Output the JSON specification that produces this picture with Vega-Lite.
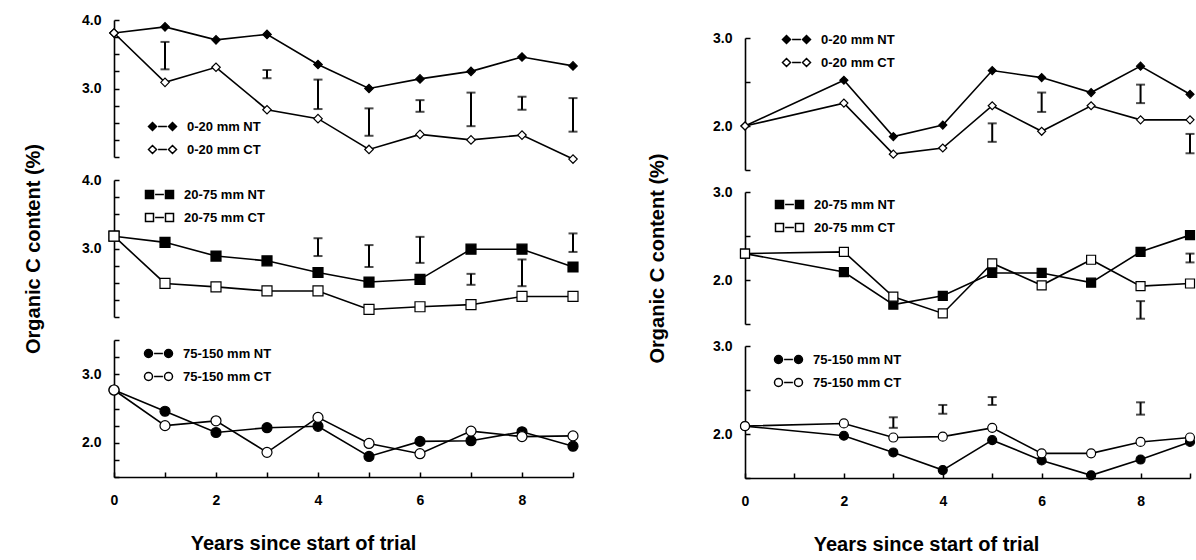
{
  "$schema": "https://vega.github.io/schema/vega-lite/v6.json",
  "padding": {"left": 23, "top": 13, "right": 0, "bottom": 0},
  "config": {
    "font": "Liberation Sans",
    "view": {"stroke": null},
    "axis": {"domainColor": "black", "domainWidth": 1.6, "tickColor": "black", "tickWidth": 1.5, "tickSize": -5, "labelFont": "Liberation Sans", "labelFontWeight": "bold", "labelFontSize": 14, "labelColor": "black", "titleFont": "Liberation Sans", "titleFontWeight": "bold", "titleFontSize": 20, "titleColor": "black", "grid": false, "labelFlush": false, "labelOverlap": false},
    "legend": {"orient": "none", "padding": 0, "labelFont": "Liberation Sans", "labelFontWeight": "bold", "labelFontSize": 13, "labelColor": "black", "labelOffset": 18, "symbolSize": 64, "symbolStrokeColor": "black", "symbolStrokeWidth": 1.5, "rowPadding": 8, "symbolOffset": 0}
  },
  "datasets": {
    "pts": [
      {"panel": "L1", "series": "0-20 mm NT", "year": 0, "value": 3.81},
      {"panel": "L1", "series": "0-20 mm NT", "year": 1, "value": 3.90},
      {"panel": "L1", "series": "0-20 mm NT", "year": 2, "value": 3.71},
      {"panel": "L1", "series": "0-20 mm NT", "year": 3, "value": 3.79},
      {"panel": "L1", "series": "0-20 mm NT", "year": 4, "value": 3.35},
      {"panel": "L1", "series": "0-20 mm NT", "year": 5, "value": 3.00},
      {"panel": "L1", "series": "0-20 mm NT", "year": 6, "value": 3.14},
      {"panel": "L1", "series": "0-20 mm NT", "year": 7, "value": 3.25},
      {"panel": "L1", "series": "0-20 mm NT", "year": 8, "value": 3.46},
      {"panel": "L1", "series": "0-20 mm NT", "year": 9, "value": 3.33},
      {"panel": "L1", "series": "0-20 mm CT", "year": 0, "value": 3.81},
      {"panel": "L1", "series": "0-20 mm CT", "year": 1, "value": 3.09},
      {"panel": "L1", "series": "0-20 mm CT", "year": 2, "value": 3.31},
      {"panel": "L1", "series": "0-20 mm CT", "year": 3, "value": 2.69},
      {"panel": "L1", "series": "0-20 mm CT", "year": 4, "value": 2.56},
      {"panel": "L1", "series": "0-20 mm CT", "year": 5, "value": 2.11},
      {"panel": "L1", "series": "0-20 mm CT", "year": 6, "value": 2.33},
      {"panel": "L1", "series": "0-20 mm CT", "year": 7, "value": 2.25},
      {"panel": "L1", "series": "0-20 mm CT", "year": 8, "value": 2.32},
      {"panel": "L1", "series": "0-20 mm CT", "year": 9, "value": 1.97},
      {"panel": "L2", "series": "20-75 mm NT", "year": 0, "value": 3.18},
      {"panel": "L2", "series": "20-75 mm NT", "year": 1, "value": 3.09},
      {"panel": "L2", "series": "20-75 mm NT", "year": 2, "value": 2.89},
      {"panel": "L2", "series": "20-75 mm NT", "year": 3, "value": 2.82},
      {"panel": "L2", "series": "20-75 mm NT", "year": 4, "value": 2.65},
      {"panel": "L2", "series": "20-75 mm NT", "year": 5, "value": 2.51},
      {"panel": "L2", "series": "20-75 mm NT", "year": 6, "value": 2.55},
      {"panel": "L2", "series": "20-75 mm NT", "year": 7, "value": 2.99},
      {"panel": "L2", "series": "20-75 mm NT", "year": 8, "value": 2.99},
      {"panel": "L2", "series": "20-75 mm NT", "year": 9, "value": 2.73},
      {"panel": "L2", "series": "20-75 mm CT", "year": 0, "value": 3.18},
      {"panel": "L2", "series": "20-75 mm CT", "year": 1, "value": 2.49},
      {"panel": "L2", "series": "20-75 mm CT", "year": 2, "value": 2.44},
      {"panel": "L2", "series": "20-75 mm CT", "year": 3, "value": 2.38},
      {"panel": "L2", "series": "20-75 mm CT", "year": 4, "value": 2.38},
      {"panel": "L2", "series": "20-75 mm CT", "year": 5, "value": 2.11},
      {"panel": "L2", "series": "20-75 mm CT", "year": 6, "value": 2.15},
      {"panel": "L2", "series": "20-75 mm CT", "year": 7, "value": 2.18},
      {"panel": "L2", "series": "20-75 mm CT", "year": 8, "value": 2.30},
      {"panel": "L2", "series": "20-75 mm CT", "year": 9, "value": 2.30},
      {"panel": "L3", "series": "75-150 mm NT", "year": 0, "value": 2.77},
      {"panel": "L3", "series": "75-150 mm NT", "year": 1, "value": 2.46},
      {"panel": "L3", "series": "75-150 mm NT", "year": 2, "value": 2.15},
      {"panel": "L3", "series": "75-150 mm NT", "year": 3, "value": 2.22},
      {"panel": "L3", "series": "75-150 mm NT", "year": 4, "value": 2.24},
      {"panel": "L3", "series": "75-150 mm NT", "year": 5, "value": 1.80},
      {"panel": "L3", "series": "75-150 mm NT", "year": 6, "value": 2.02},
      {"panel": "L3", "series": "75-150 mm NT", "year": 7, "value": 2.03},
      {"panel": "L3", "series": "75-150 mm NT", "year": 8, "value": 2.16},
      {"panel": "L3", "series": "75-150 mm NT", "year": 9, "value": 1.95},
      {"panel": "L3", "series": "75-150 mm CT", "year": 0, "value": 2.77},
      {"panel": "L3", "series": "75-150 mm CT", "year": 1, "value": 2.25},
      {"panel": "L3", "series": "75-150 mm CT", "year": 2, "value": 2.32},
      {"panel": "L3", "series": "75-150 mm CT", "year": 3, "value": 1.86},
      {"panel": "L3", "series": "75-150 mm CT", "year": 4, "value": 2.37},
      {"panel": "L3", "series": "75-150 mm CT", "year": 5, "value": 1.99},
      {"panel": "L3", "series": "75-150 mm CT", "year": 6, "value": 1.84},
      {"panel": "L3", "series": "75-150 mm CT", "year": 7, "value": 2.17},
      {"panel": "L3", "series": "75-150 mm CT", "year": 8, "value": 2.09},
      {"panel": "L3", "series": "75-150 mm CT", "year": 9, "value": 2.10},
      {"panel": "R1", "series": "0-20 mm NT", "year": 0, "value": 2.00},
      {"panel": "R1", "series": "0-20 mm NT", "year": 2, "value": 2.52},
      {"panel": "R1", "series": "0-20 mm NT", "year": 3, "value": 1.88},
      {"panel": "R1", "series": "0-20 mm NT", "year": 4, "value": 2.01},
      {"panel": "R1", "series": "0-20 mm NT", "year": 5, "value": 2.63},
      {"panel": "R1", "series": "0-20 mm NT", "year": 6, "value": 2.55},
      {"panel": "R1", "series": "0-20 mm NT", "year": 7, "value": 2.38},
      {"panel": "R1", "series": "0-20 mm NT", "year": 8, "value": 2.68},
      {"panel": "R1", "series": "0-20 mm NT", "year": 9, "value": 2.36},
      {"panel": "R1", "series": "0-20 mm CT", "year": 0, "value": 2.00},
      {"panel": "R1", "series": "0-20 mm CT", "year": 2, "value": 2.26},
      {"panel": "R1", "series": "0-20 mm CT", "year": 3, "value": 1.68},
      {"panel": "R1", "series": "0-20 mm CT", "year": 4, "value": 1.75},
      {"panel": "R1", "series": "0-20 mm CT", "year": 5, "value": 2.23},
      {"panel": "R1", "series": "0-20 mm CT", "year": 6, "value": 1.94},
      {"panel": "R1", "series": "0-20 mm CT", "year": 7, "value": 2.23},
      {"panel": "R1", "series": "0-20 mm CT", "year": 8, "value": 2.07},
      {"panel": "R1", "series": "0-20 mm CT", "year": 9, "value": 2.07},
      {"panel": "R2", "series": "20-75 mm NT", "year": 0, "value": 2.30},
      {"panel": "R2", "series": "20-75 mm NT", "year": 2, "value": 2.09},
      {"panel": "R2", "series": "20-75 mm NT", "year": 3, "value": 1.72},
      {"panel": "R2", "series": "20-75 mm NT", "year": 4, "value": 1.82},
      {"panel": "R2", "series": "20-75 mm NT", "year": 5, "value": 2.08},
      {"panel": "R2", "series": "20-75 mm NT", "year": 6, "value": 2.08},
      {"panel": "R2", "series": "20-75 mm NT", "year": 7, "value": 1.97},
      {"panel": "R2", "series": "20-75 mm NT", "year": 8, "value": 2.32},
      {"panel": "R2", "series": "20-75 mm NT", "year": 9, "value": 2.51},
      {"panel": "R2", "series": "20-75 mm CT", "year": 0, "value": 2.30},
      {"panel": "R2", "series": "20-75 mm CT", "year": 2, "value": 2.32},
      {"panel": "R2", "series": "20-75 mm CT", "year": 3, "value": 1.81},
      {"panel": "R2", "series": "20-75 mm CT", "year": 4, "value": 1.62},
      {"panel": "R2", "series": "20-75 mm CT", "year": 5, "value": 2.19},
      {"panel": "R2", "series": "20-75 mm CT", "year": 6, "value": 1.94},
      {"panel": "R2", "series": "20-75 mm CT", "year": 7, "value": 2.23},
      {"panel": "R2", "series": "20-75 mm CT", "year": 8, "value": 1.93},
      {"panel": "R2", "series": "20-75 mm CT", "year": 9, "value": 1.96},
      {"panel": "R3", "series": "75-150 mm NT", "year": 0, "value": 2.09},
      {"panel": "R3", "series": "75-150 mm NT", "year": 2, "value": 1.98},
      {"panel": "R3", "series": "75-150 mm NT", "year": 3, "value": 1.79},
      {"panel": "R3", "series": "75-150 mm NT", "year": 4, "value": 1.59},
      {"panel": "R3", "series": "75-150 mm NT", "year": 5, "value": 1.93},
      {"panel": "R3", "series": "75-150 mm NT", "year": 6, "value": 1.70},
      {"panel": "R3", "series": "75-150 mm NT", "year": 7, "value": 1.53},
      {"panel": "R3", "series": "75-150 mm NT", "year": 8, "value": 1.71},
      {"panel": "R3", "series": "75-150 mm NT", "year": 9, "value": 1.91},
      {"panel": "R3", "series": "75-150 mm CT", "year": 0, "value": 2.09},
      {"panel": "R3", "series": "75-150 mm CT", "year": 2, "value": 2.12},
      {"panel": "R3", "series": "75-150 mm CT", "year": 3, "value": 1.96},
      {"panel": "R3", "series": "75-150 mm CT", "year": 4, "value": 1.97},
      {"panel": "R3", "series": "75-150 mm CT", "year": 5, "value": 2.07},
      {"panel": "R3", "series": "75-150 mm CT", "year": 6, "value": 1.78},
      {"panel": "R3", "series": "75-150 mm CT", "year": 7, "value": 1.78},
      {"panel": "R3", "series": "75-150 mm CT", "year": 8, "value": 1.91},
      {"panel": "R3", "series": "75-150 mm CT", "year": 9, "value": 1.96}
    ],
    "err": [
      {"panel": "L1", "year": 1, "value": 3.28, "hi": 3.68},
      {"panel": "L1", "year": 3, "value": 3.15, "hi": 3.27},
      {"panel": "L1", "year": 4, "value": 2.70, "hi": 3.13},
      {"panel": "L1", "year": 5, "value": 2.31, "hi": 2.71},
      {"panel": "L1", "year": 6, "value": 2.66, "hi": 2.83},
      {"panel": "L1", "year": 7, "value": 2.45, "hi": 2.94},
      {"panel": "L1", "year": 8, "value": 2.69, "hi": 2.88},
      {"panel": "L1", "year": 9, "value": 2.37, "hi": 2.86},
      {"panel": "L2", "year": 4, "value": 2.89, "hi": 3.15},
      {"panel": "L2", "year": 5, "value": 2.73, "hi": 3.05},
      {"panel": "L2", "year": 6, "value": 2.79, "hi": 3.17},
      {"panel": "L2", "year": 7, "value": 2.47, "hi": 2.63},
      {"panel": "L2", "year": 8, "value": 2.45, "hi": 2.84},
      {"panel": "L2", "year": 9, "value": 2.95, "hi": 3.22},
      {"panel": "R1", "year": 5, "value": 1.82, "hi": 2.03},
      {"panel": "R1", "year": 6, "value": 2.16, "hi": 2.38},
      {"panel": "R1", "year": 8, "value": 2.26, "hi": 2.47},
      {"panel": "R1", "year": 9, "value": 1.69, "hi": 1.91},
      {"panel": "R2", "year": 8, "value": 1.56, "hi": 1.76},
      {"panel": "R2", "year": 9, "value": 2.20, "hi": 2.30},
      {"panel": "R3", "year": 3, "value": 2.07, "hi": 2.19},
      {"panel": "R3", "year": 4, "value": 2.23, "hi": 2.33},
      {"panel": "R3", "year": 5, "value": 2.33, "hi": 2.42},
      {"panel": "R3", "year": 8, "value": 2.22, "hi": 2.36}
    ]
  },
  "hconcat": [
    {
      "vconcat": [
        {
          "width": 459, "height": 137,
          "encoding": {
            "x": {"field": "year", "type": "quantitative", "scale": {"domain": [0, 9], "nice": false, "zero": false}, "axis": null},
            "y": {"field": "value", "type": "quantitative", "scale": {"domain": [2, 4], "nice": false, "zero": false}, "axis": {"values": [2, 2.25, 2.5, 2.75, 3, 3.25, 3.5, 3.75, 4], "format": ".1f", "labelExpr": "datum.value >= 3 && datum.value % 1 === 0 ? datum.label : ''", "labelPadding": 18, "title": null}}
          },
          "layer": [
            {"data": {"name": "pts"}, "transform": [{"filter": "datum.panel === 'L1'"}], "mark": {"type": "line", "color": "black", "strokeWidth": 1.6}, "encoding": {"detail": {"field": "series"}}},
            {"data": {"name": "err"}, "transform": [{"filter": "datum.panel === 'L1'"}], "mark": {"type": "errorbar", "ticks": true, "size": 9, "thickness": 2, "color": "black"}, "encoding": {"y2": {"field": "hi"}}},
            {"data": {"name": "pts"}, "transform": [{"filter": "datum.panel === 'L1'"}], "mark": {"type": "point", "shape": "diamond", "size": 72, "filled": true, "stroke": "black", "strokeWidth": 1.2, "opacity": 1},
             "encoding": {"fill": {"field": "series", "type": "nominal", "scale": {"domain": ["0-20 mm NT", "0-20 mm CT"], "range": ["black", "white"]},
               "legend": {"title": null, "legendX": 42, "legendY": 100, "symbolType": "M-3.5,0L-2.5,-1L-1.5,0L-2.5,1Z M-1.1,0H1.1 M1.5,0L2.5,-1L3.5,0L2.5,1Z"}}}}
          ]
        },
        {
          "width": 459, "height": 137,
          "encoding": {
            "x": {"field": "year", "type": "quantitative", "scale": {"domain": [0, 9], "nice": false, "zero": false}, "axis": null},
            "y": {"field": "value", "type": "quantitative", "scale": {"domain": [2, 4], "nice": false, "zero": false}, "axis": {"values": [2, 2.25, 2.5, 2.75, 3, 3.25, 3.5, 3.75, 4], "format": ".1f", "labelExpr": "datum.value >= 3 && datum.value % 1 === 0 ? datum.label : ''", "labelPadding": 18, "title": "Organic C content (%)", "titlePadding": 38}}
          },
          "layer": [
            {"data": {"name": "pts"}, "transform": [{"filter": "datum.panel === 'L2'"}], "mark": {"type": "line", "color": "black", "strokeWidth": 1.6}, "encoding": {"detail": {"field": "series"}}},
            {"data": {"name": "err"}, "transform": [{"filter": "datum.panel === 'L2'"}], "mark": {"type": "errorbar", "ticks": true, "size": 9, "thickness": 2, "color": "black"}, "encoding": {"y2": {"field": "hi"}}},
            {"data": {"name": "pts"}, "transform": [{"filter": "datum.panel === 'L2'"}], "mark": {"type": "point", "shape": "square", "size": 100, "filled": true, "stroke": "black", "strokeWidth": 1.2, "opacity": 1},
             "encoding": {"fill": {"field": "series", "type": "nominal", "scale": {"domain": ["20-75 mm NT", "20-75 mm CT"], "range": ["black", "white"]},
               "legend": {"title": null, "legendX": 39, "legendY": 8, "symbolType": "M-3.5,-1H-1.5V1H-3.5Z M-1.1,0H1.1 M1.5,-1H3.5V1H1.5Z"}}}}
          ]
        },
        {
          "width": 459, "height": 137,
          "encoding": {
            "x": {"field": "year", "type": "quantitative", "scale": {"domain": [0, 9], "nice": false, "zero": false}, "axis": {"values": [0, 1, 2, 3, 4, 5, 6, 7, 8, 9], "labelExpr": "datum.value % 2 === 0 ? datum.label : ''", "labelPadding": 21, "title": "Years since start of trial", "titlePadding": 26, "titleX": 189}},
            "y": {"field": "value", "type": "quantitative", "scale": {"domain": [1.5, 3.5], "nice": false, "zero": false}, "axis": {"values": [1.5, 1.75, 2, 2.25, 2.5, 2.75, 3, 3.25, 3.5], "format": ".1f", "labelExpr": "(datum.value === 2 || datum.value === 3) ? datum.label : ''", "labelPadding": 18, "title": null}}
          },
          "layer": [
            {"data": {"name": "pts"}, "transform": [{"filter": "datum.panel === 'L3'"}], "mark": {"type": "line", "color": "black", "strokeWidth": 1.6}, "encoding": {"detail": {"field": "series"}}},
            {"data": {"name": "pts"}, "transform": [{"filter": "datum.panel === 'L3'"}], "mark": {"type": "point", "shape": "circle", "size": 100, "filled": true, "stroke": "black", "strokeWidth": 1.2, "opacity": 1},
             "encoding": {"fill": {"field": "series", "type": "nominal", "scale": {"domain": ["75-150 mm NT", "75-150 mm CT"], "range": ["black", "white"]},
               "legend": {"title": null, "legendX": 38, "legendY": 7, "symbolType": "M-1.5,0A1,1,0,1,1,-3.5,0A1,1,0,1,1,-1.5,0Z M-1.1,0H1.1 M3.5,0A1,1,0,1,1,1.5,0A1,1,0,1,1,3.5,0Z"}}}}
          ]
        }
      ],
      "spacing": 23,
      "bounds": "flush",
      "resolve": {"scale": {"x": "independent", "y": "independent", "fill": "independent"}, "axis": {"x": "independent", "y": "independent"}, "legend": {"fill": "independent"}}
    },
    {
      "vconcat": [
        {
          "width": 445, "height": 150,
          "encoding": {
            "x": {"field": "year", "type": "quantitative", "scale": {"domain": [0, 9], "nice": false, "zero": false}, "axis": null},
            "y": {"field": "value", "type": "quantitative", "scale": {"domain": [1.5, 3], "nice": false, "zero": false, "rangeMax": 18}, "axis": {"values": [1.5, 2, 2.5, 3], "format": ".1f", "labelExpr": "(datum.value === 2 || datum.value === 3) ? datum.label : ''", "labelPadding": 18, "title": null}}
          },
          "layer": [
            {"data": {"name": "pts"}, "transform": [{"filter": "datum.panel === 'R1'"}], "mark": {"type": "line", "color": "black", "strokeWidth": 1.6}, "encoding": {"detail": {"field": "series"}}},
            {"data": {"name": "err"}, "transform": [{"filter": "datum.panel === 'R1'"}], "mark": {"type": "errorbar", "ticks": true, "size": 9, "thickness": 2, "color": "black"}, "encoding": {"y2": {"field": "hi"}}},
            {"data": {"name": "pts"}, "transform": [{"filter": "datum.panel === 'R1'"}], "mark": {"type": "point", "shape": "diamond", "size": 64, "filled": true, "stroke": "black", "strokeWidth": 1.2, "opacity": 1},
             "encoding": {"fill": {"field": "series", "type": "nominal", "scale": {"domain": ["0-20 mm NT", "0-20 mm CT"], "range": ["black", "white"]},
               "legend": {"title": null, "legendX": 45, "legendY": 13, "symbolType": "M-3.5,0L-2.5,-1L-1.5,0L-2.5,1Z M-1.1,0H1.1 M1.5,0L2.5,-1L3.5,0L2.5,1Z"}}}}
          ]
        },
        {
          "width": 445, "height": 132,
          "encoding": {
            "x": {"field": "year", "type": "quantitative", "scale": {"domain": [0, 9], "nice": false, "zero": false}, "axis": null},
            "y": {"field": "value", "type": "quantitative", "scale": {"domain": [1.5, 3], "nice": false, "zero": false}, "axis": {"values": [1.5, 2, 2.5, 3], "format": ".1f", "labelExpr": "(datum.value === 2 || datum.value === 3) ? datum.label : ''", "labelPadding": 18, "title": "Organic C content (%)", "titlePadding": 45}}
          },
          "layer": [
            {"data": {"name": "pts"}, "transform": [{"filter": "datum.panel === 'R2'"}], "mark": {"type": "line", "color": "black", "strokeWidth": 1.6}, "encoding": {"detail": {"field": "series"}}},
            {"data": {"name": "err"}, "transform": [{"filter": "datum.panel === 'R2'"}], "mark": {"type": "errorbar", "ticks": true, "size": 9, "thickness": 2, "color": "black"}, "encoding": {"y2": {"field": "hi"}}},
            {"data": {"name": "pts"}, "transform": [{"filter": "datum.panel === 'R2'"}], "mark": {"type": "point", "shape": "square", "size": 81, "filled": true, "stroke": "black", "strokeWidth": 1.2, "opacity": 1},
             "encoding": {"fill": {"field": "series", "type": "nominal", "scale": {"domain": ["20-75 mm NT", "20-75 mm CT"], "range": ["black", "white"]},
               "legend": {"title": null, "legendX": 38, "legendY": 6, "symbolType": "M-3.5,-1H-1.5V1H-3.5Z M-1.1,0H1.1 M1.5,-1H3.5V1H1.5Z"}}}}
          ]
        },
        {
          "width": 445, "height": 132,
          "encoding": {
            "x": {"field": "year", "type": "quantitative", "scale": {"domain": [0, 9], "nice": false, "zero": false}, "axis": {"values": [0, 1, 2, 3, 4, 5, 6, 7, 8, 9], "labelExpr": "datum.value % 2 === 0 ? datum.label : ''", "labelPadding": 21, "title": "Years since start of trial", "titlePadding": 26, "titleX": 181}},
            "y": {"field": "value", "type": "quantitative", "scale": {"domain": [1.5, 3], "nice": false, "zero": false}, "axis": {"values": [1.5, 2, 2.5, 3], "format": ".1f", "labelExpr": "(datum.value === 2 || datum.value === 3) ? datum.label : ''", "labelPadding": 18, "title": null}}
          },
          "layer": [
            {"data": {"name": "pts"}, "transform": [{"filter": "datum.panel === 'R3'"}], "mark": {"type": "line", "color": "black", "strokeWidth": 1.6}, "encoding": {"detail": {"field": "series"}}},
            {"data": {"name": "err"}, "transform": [{"filter": "datum.panel === 'R3'"}], "mark": {"type": "errorbar", "ticks": true, "size": 9, "thickness": 2, "color": "black"}, "encoding": {"y2": {"field": "hi"}}},
            {"data": {"name": "pts"}, "transform": [{"filter": "datum.panel === 'R3'"}], "mark": {"type": "point", "shape": "circle", "size": 81, "filled": true, "stroke": "black", "strokeWidth": 1.2, "opacity": 1},
             "encoding": {"fill": {"field": "series", "type": "nominal", "scale": {"domain": ["75-150 mm NT", "75-150 mm CT"], "range": ["black", "white"]},
               "legend": {"title": null, "legendX": 37, "legendY": 7, "symbolType": "M-1.5,0A1,1,0,1,1,-3.5,0A1,1,0,1,1,-1.5,0Z M-1.1,0H1.1 M3.5,0A1,1,0,1,1,1.5,0A1,1,0,1,1,3.5,0Z"}}}}
          ]
        }
      ],
      "spacing": 22,
      "bounds": "flush",
      "resolve": {"scale": {"x": "independent", "y": "independent", "fill": "independent"}, "axis": {"x": "independent", "y": "independent"}, "legend": {"fill": "independent"}}
    }
  ],
  "spacing": 66,
  "bounds": "full",
  "resolve": {"scale": {"x": "independent", "y": "independent", "fill": "independent"}, "axis": {"x": "independent", "y": "independent"}, "legend": {"fill": "independent"}}
}
